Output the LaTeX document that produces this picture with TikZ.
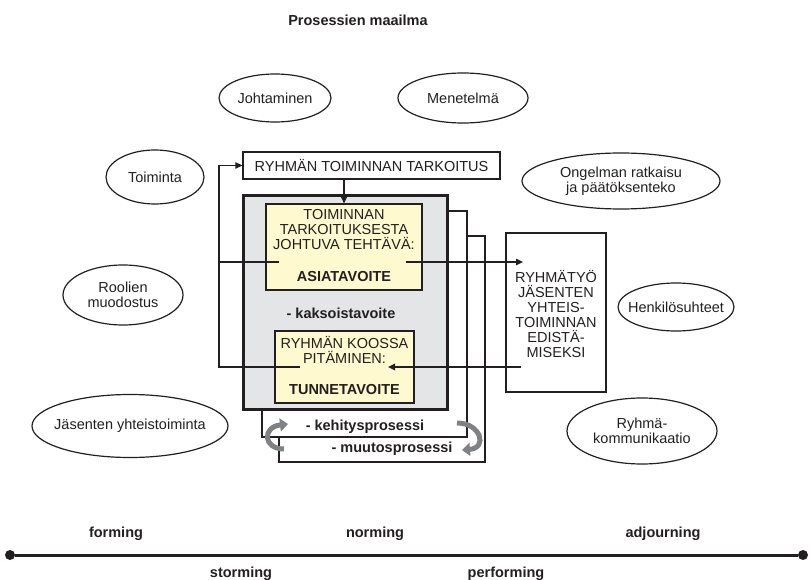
\documentclass[tikz,border=0pt]{standalone}
\usepackage{fontspec}
\setmainfont{Liberation Sans}
\usetikzlibrary{arrows.meta,calc}
\definecolor{panelgray}{HTML}{E4E5E7}
\definecolor{paleyellow}{HTML}{FFF9CF}
\definecolor{arcgray}{HTML}{7F8184}
\definecolor{ink}{HTML}{231F20}

\begin{document}
\begin{tikzpicture}[x=1pt,y=-1pt,
  txt/.style={font=\fontsize{14.5}{15}\selectfont, inner sep=0pt, align=center, text=ink},
  boldtxt/.style={txt, font=\fontsize{14.5}{15}\selectfont\bfseries},
  oval/.style={draw=ink, line width=1.2pt},
  wire/.style={draw=ink, line width=1.3pt},
  arr/.style={wire, -{Triangle[length=7pt,width=6.5pt]}},
  bendarrow/.style={line width=5pt, draw=arcgray, -{Triangle[length=8pt,width=13pt]}},
  framebox/.style={draw=ink, line width=1.3pt, inner sep=0pt},
  dot/.style={circle, fill=ink, inner sep=0pt, minimum size=10pt}]

\useasboundingbox (0,0) rectangle (812,580);

% heading
\node[boldtxt] (title) at (358,20) {Prosessien maailma};

% surrounding themes
\node[txt] (lead) at (275,98) {Johtaminen};
\draw[oval] (lead.center) ellipse [x radius=56, y radius=24];
\node[txt] (method) at (463,98) {Menetelmä};
\draw[oval] (method.center) ellipse [x radius=65, y radius=25];
\node[txt] (action) at (155,177) {Toiminta};
\draw[oval] (action.center) ellipse [x radius=49, y radius=27];
\node[txt] (problem) at (621,181) {Ongelman ratkaisu\\ja päätöksenteko};
\draw[oval] (problem.center) ellipse [x radius=99, y radius=28];
\node[txt] (roles) at (123,295) {Roolien\\muodostus};
\draw[oval] (roles.center) ellipse [x radius=60, y radius=30];
\node[txt] (relations) at (676,307) {Henkilösuhteet};
\draw[oval] (relations.center) ellipse [x radius=58, y radius=24];
\node[txt] (cooperation) at (130,426) {Jäsenten yhteistoiminta};
\draw[oval] (cooperation.center) ellipse [x radius=98, y radius=31.5];
\node[txt] (communication) at (642,431) {Ryhmä-\\kommunikaatio};
\draw[oval] (communication.center) ellipse [x radius=75, y radius=33];

% purpose box
\node[framebox, fill=white, minimum width=257pt, minimum height=27pt, txt]
  (purpose) at (371.5,165.5) {RYHMÄN TOIMINNAN TARKOITUS};

% central panel with the two goals
\node[draw=ink, line width=3.5pt, fill=panelgray, minimum width=204pt,
  minimum height=214pt, inner sep=0pt] (panel) at (345.5,302.5) {};
\node[framebox, fill=paleyellow, minimum width=156pt, minimum height=86pt]
  (task) at (344,247) {};
\node[framebox, fill=paleyellow, minimum width=139pt, minimum height=72pt]
  (cohesion) at (344.5,367) {};
\node[txt] (taskhead) at (344,230) {TOIMINNAN\\TARKOITUKSESTA\\JOHTUVA TEHTÄVÄ:};
\node[boldtxt] (tasklabel) at (344,277) {ASIATAVOITE};
\node[boldtxt] (dual) at (341,313) {- kaksoistavoite};
\node[txt] (cohhead) at (344.5,350) {RYHMÄN KOOSSA\\PITÄMINEN:};
\node[boldtxt] (cohlabel) at (344.5,390) {TUNNETAVOITE};

% team box
\node[framebox, fill=white, minimum width=100pt, minimum height=159pt]
  (team) at (556,312.5) {};
\node[txt] (teamtext) at (556,314.5) {RYHMÄTYÖ\\JÄSENTEN\\YHTEIS-\\TOIMINNAN\\EDISTÄ-\\MISEKSI};

% feedback to the purpose
\coordinate (fbA) at (279,262);
\coordinate (fbB) at (300,367);
\coordinate (rail) at (219,165.5);
\draw[arr] (fbB) -| (rail) -- (purpose.west);
\draw[wire] (fbA) -- (fbA -| rail);
\draw[arr] (task.north |- purpose.south) -- (task.north);

% flows to and from the team box
\coordinate (outA) at (406,262);
\coordinate (inA) at (523,262);
\draw[arr] (outA) -- (inA);
\coordinate (outB) at (521,367);
\coordinate (inB) at (388,367);
\draw[arr] (outB) -- (inB);

% development and change loops
\coordinate (devStart) at (449,211);
\coordinate (devCorner) at (467,437);
\coordinate (devEnd) at (262,411);
\draw[wire] (devStart) -| (devCorner) -| (devEnd);
\coordinate (chgStart) at (467,236);
\coordinate (chgCorner) at (485,462);
\coordinate (chgEnd) at (279,437);
\draw[wire] (chgStart) -| (chgCorner) -| (chgEnd);
\node[boldtxt] (develop) at (365,427) {- kehitysprosessi};
\node[boldtxt] (change) at (392,449) {- muutosprosessi};

% circulating arrows
\draw[bendarrow] (284,449) .. controls (263,449) and (262,427) .. (288,424);
\draw[bendarrow] (457,423) .. controls (481,423) and (488,448) .. (462,450);

% stages of group development
\node[dot] (tlStart) at (10,555) {};
\node[dot] (tlEnd) at (803,555) {};
\draw[ink, line width=3pt] (tlStart) -- (tlEnd);
\node[boldtxt] (forming) at (116,534) {forming};
\node[boldtxt] (norming) at (375,534) {norming};
\node[boldtxt] (adjourning) at (663,534) {adjourning};
\node[boldtxt] (storming) at (241,574) {storming};
\node[boldtxt] (performing) at (506,574) {performing};
\end{tikzpicture}
\end{document}
